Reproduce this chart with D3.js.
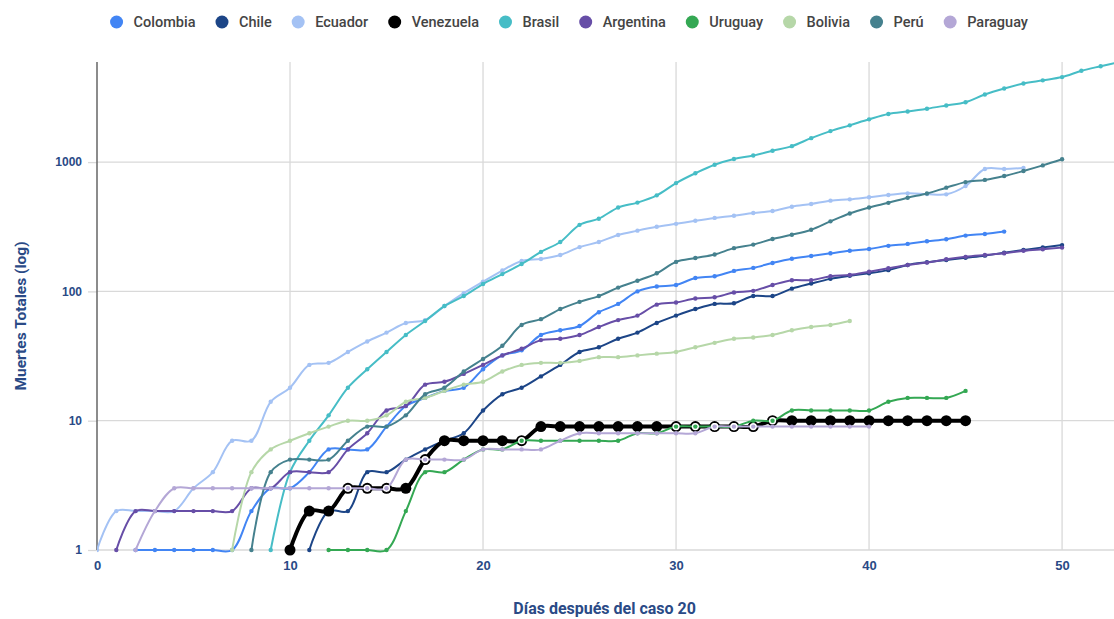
<!DOCTYPE html>
<html>
<head>
<meta charset="utf-8">
<script src="https://cdn.jsdelivr.net/npm/d3@7"></script>
<style>
  body { margin: 0; background: #fff; }
  svg { font-family: Roboto, "Noto Sans", sans-serif; }
</style>
</head>
<body>
<script>
const width = 1114;
const height = 619;
const margin = { top: 62, right: 0, bottom: 69, left: 97 };

// deaths by day since case 20 (null = not yet at 1 death)
const colombia = [null, null, 1, 1, 1, 1, 1, 1, 2, 3, 3, 4, 6, 6, 6, 9, 13, 15, 17, 18, 25, 32, 35, 46, 50, 54, 69, 80, 100, 109, 112, 127, 131, 144, 152, 166, 179, 188, 197, 206, 213, 225, 233, 244, 253, 270, 278, 290];
const chile = [null, null, null, null, null, null, null, null, null, null, null, 1, 2, 2, 4, 4, 5, 6, 7, 8, 12, 16, 18, 22, 27, 34, 37, 43, 48, 57, 65, 73, 80, 81, 92, 92, 105, 115, 125, 132, 138, 146, 160, 168, 175, 182, 189, 199, 209, 219, 228];
const ecuador = [1, 2, 2, 2, 2, 3, 4, 7, 7, 14, 18, 27, 28, 34, 41, 48, 57, 60, 77, 97, 119, 145, 172, 178, 191, 220, 241, 273, 295, 316, 333, 352, 370, 385, 404, 418, 452, 474, 503, 515, 535, 556, 573, 566, 563, 653, 885, 885, 900];
const venezuela = [null, null, null, null, null, null, null, null, null, null, 1, 2, 2, 3, 3, 3, 3, 5, 7, 7, 7, 7, 7, 9, 9, 9, 9, 9, 9, 9, 9, 9, 9, 9, 9, 10, 10, 10, 10, 10, 10, 10, 10, 10, 10, 10];
const brasil = [null, null, null, null, null, null, null, null, null, 1, 4, 7, 11, 18, 25, 34, 46, 59, 77, 92, 114, 136, 163, 202, 241, 327, 365, 445, 486, 553, 688, 820, 954, 1057, 1124, 1223, 1328, 1532, 1736, 1924, 2141, 2354, 2462, 2588, 2741, 2906, 3331, 3704, 4057, 4286, 4543, 5083, 5513, 5950];
const argentina = [null, 1, 2, 2, 2, 2, 2, 2, 3, 3, 4, 4, 4, 6, 8, 12, 13, 19, 20, 23, 27, 32, 36, 42, 43, 46, 53, 60, 65, 79, 82, 88, 90, 98, 101, 112, 122, 122, 131, 134, 142, 151, 160, 167, 177, 185, 191, 197, 206, 212, 218];
const uruguay = [null, null, null, null, null, null, null, null, null, null, null, null, 1, 1, 1, 1, 2, 4, 4, 5, 6, 6, 7, 7, 7, 7, 7, 7, 8, 8, 9, 9, 9, 9, 10, 10, 12, 12, 12, 12, 12, 14, 15, 15, 15, 17];
const bolivia = [null, null, null, null, null, null, null, 1, 4, 6, 7, 8, 9, 10, 10, 11, 14, 15, 17, 19, 20, 24, 27, 28, 28, 29, 31, 31, 32, 33, 34, 37, 40, 43, 44, 46, 50, 53, 55, 59];
const peru = [null, null, null, null, null, null, null, null, 1, 4, 5, 5, 5, 7, 9, 9, 11, 16, 18, 24, 30, 38, 55, 61, 73, 83, 92, 107, 121, 138, 169, 181, 193, 216, 230, 254, 274, 300, 348, 400, 445, 484, 530, 572, 634, 700, 728, 780, 854, 943, 1051];
const paraguay = [null, null, 1, 2, 3, 3, 3, 3, 3, 3, 3, 3, 3, 3, 3, 3, 5, 5, 5, 5, 6, 6, 6, 6, 7, 8, 8, 8, 8, 8, 8, 8, 9, 9, 9, 9, 9, 9, 9, 9, 9];

const countries = ['Colombia', 'Chile', 'Ecuador', 'Venezuela', 'Brasil', 'Argentina', 'Uruguay', 'Bolivia', 'Perú', 'Paraguay'];
const colors = ['#4285f4', '#1c4587', '#a4c2f4', '#000000', '#46bdc6', '#674ea7', '#34a853', '#b6d7a8', '#45818e', '#b4a7d6'];
const values = [colombia, chile, ecuador, venezuela, brasil, argentina, uruguay, bolivia, peru, paraguay];
const yTicks = [1, 10, 100, 1000];
const xTicks = [0, 10, 20, 30, 40, 50];

const series = countries.map((name, i) => ({
  name: name,
  color: colors[i],
  bold: name === 'Venezuela',
  points: values[i].map((v, d) => ({ day: d, value: v })).filter(p => p.value !== null)
}));

const plotBottom = height - margin.bottom;
const xScale = d3.scaleLinear()
                .domain([0, 52.69])
                .range([margin.left, width - margin.right]);

const yScale = d3.scaleLog()
                .domain([1, 5943])
                .range([plotBottom, margin.top]);

const svg = d3.select('body')
              .append('svg')
              .attr('width', width)
              .attr('height', height);

svg.append('defs').append('clipPath')
    .attr('id', 'plot-clip')
    .append('rect')
    .attr('x', margin.left)
    .attr('y', margin.top - 6)
    .attr('width', width - margin.left)
    .attr('height', plotBottom - margin.top + 12);

// grid
svg.append('g')
    .selectAll('line')
    .data(yTicks)
    .enter()
    .append('line')
    .attr('x1', margin.left)
    .attr('x2', width)
    .attr('y1', d => yScale(d))
    .attr('y2', d => yScale(d))
    .attr('stroke', '#d9d9d9')
    .attr('stroke-width', 1.3);

svg.append('g')
    .selectAll('line')
    .data(xTicks.slice(1))
    .enter()
    .append('line')
    .attr('x1', d => xScale(d))
    .attr('x2', d => xScale(d))
    .attr('y1', margin.top)
    .attr('y2', plotBottom)
    .attr('stroke', '#d9d9d9')
    .attr('stroke-width', 1.3);

// axes
const yAxis = d3.axisLeft(yScale)
                .tickValues(yTicks)
                .tickFormat(d3.format('d'))
                .tickSize(9)
                .tickPadding(6);

const yAxisG = svg.append('g')
    .attr('transform', 'translate(' + margin.left + ',0)')
    .call(yAxis);
yAxisG.select('.domain').remove();
yAxisG.selectAll('line').attr('stroke', '#d9d9d9').attr('stroke-width', 1.3);
yAxisG.selectAll('text')
    .attr('fill', '#2a4a86')
    .style('font-size', '12px')
    .style('font-weight', 'bold');

const xAxis = d3.axisBottom(xScale)
                .tickValues(xTicks)
                .tickSize(0)
                .tickPadding(11);

const xAxisG = svg.append('g')
    .attr('transform', 'translate(0,' + plotBottom + ')')
    .call(xAxis);
xAxisG.select('.domain').remove();
xAxisG.selectAll('text')
    .attr('fill', '#2a4a86')
    .style('font-size', '13px')
    .style('font-weight', 'bold');

svg.append('line')
    .attr('x1', margin.left)
    .attr('x2', margin.left)
    .attr('y1', margin.top)
    .attr('y2', plotBottom)
    .attr('stroke', '#666')
    .attr('stroke-width', 1.5);

// series
const line = d3.line()
               .x(d => xScale(d.day))
               .y(d => yScale(d.value))
               .curve(d3.curveCatmullRom.alpha(0.5));

const plot = svg.append('g').attr('clip-path', 'url(#plot-clip)');
const venezuelaByDay = new Map(series[3].points.map(p => [p.day, p.value]));

series.forEach((s, i) => {
  const g = plot.append('g');
  g.append('path')
      .datum(s.points)
      .attr('fill', 'none')
      .attr('stroke', s.color)
      .attr('stroke-width', s.bold ? 4 : 2)
      .attr('stroke-linejoin', 'round')
      .attr('d', line);

  // points that sit on a Venezuela marker get a white ring
  if (i > 3) {
    g.selectAll('circle.ring')
        .data(s.points.filter(p => venezuelaByDay.get(p.day) === p.value))
        .enter()
        .append('circle')
        .attr('class', 'ring')
        .attr('cx', d => xScale(d.day))
        .attr('cy', d => yScale(d.value))
        .attr('r', 3.6)
        .attr('fill', '#fff');
  }

  g.selectAll('circle.pt')
      .data(s.points)
      .enter()
      .append('circle')
      .attr('class', 'pt')
      .attr('cx', d => xScale(d.day))
      .attr('cy', d => yScale(d.value))
      .attr('r', s.bold ? 5.5 : 2.2)
      .attr('fill', s.color);
});

// legend
const legend = svg.append('g');
let legendX = 0;
const items = legend.selectAll('g')
    .data(series)
    .enter()
    .append('g');
items.append('circle')
    .attr('r', 6.5)
    .attr('cx', 6.5)
    .attr('fill', d => d.color);
items.append('text')
    .attr('x', 23.5)
    .attr('dy', '0.35em')
    .attr('fill', '#444')
    .style('font-size', '14.5px')
    .style('font-weight', '500')
    .text(d => d.name);
items.each(function() {
  const w = this.querySelector('text').getComputedTextLength();
  d3.select(this).attr('transform', 'translate(' + legendX + ',0)');
  legendX += 23.5 + w + 20;
});
legend.attr('transform', 'translate(' + (569 - (legendX - 20) / 2) + ',22)');

// titles
svg.append('text')
    .attr('x', xScale(26.3))
    .attr('y', 614)
    .attr('text-anchor', 'middle')
    .attr('fill', '#2a4a86')
    .style('font-size', '16px')
    .style('font-weight', 'bold')
    .text('Días después del caso 20');

svg.append('text')
    .attr('transform', 'translate(26,316) rotate(-90)')
    .attr('text-anchor', 'middle')
    .attr('fill', '#2a4a86')
    .style('font-size', '15.5px')
    .style('font-weight', 'bold')
    .text('Muertes Totales (log)');
</script>
</body>
</html>
